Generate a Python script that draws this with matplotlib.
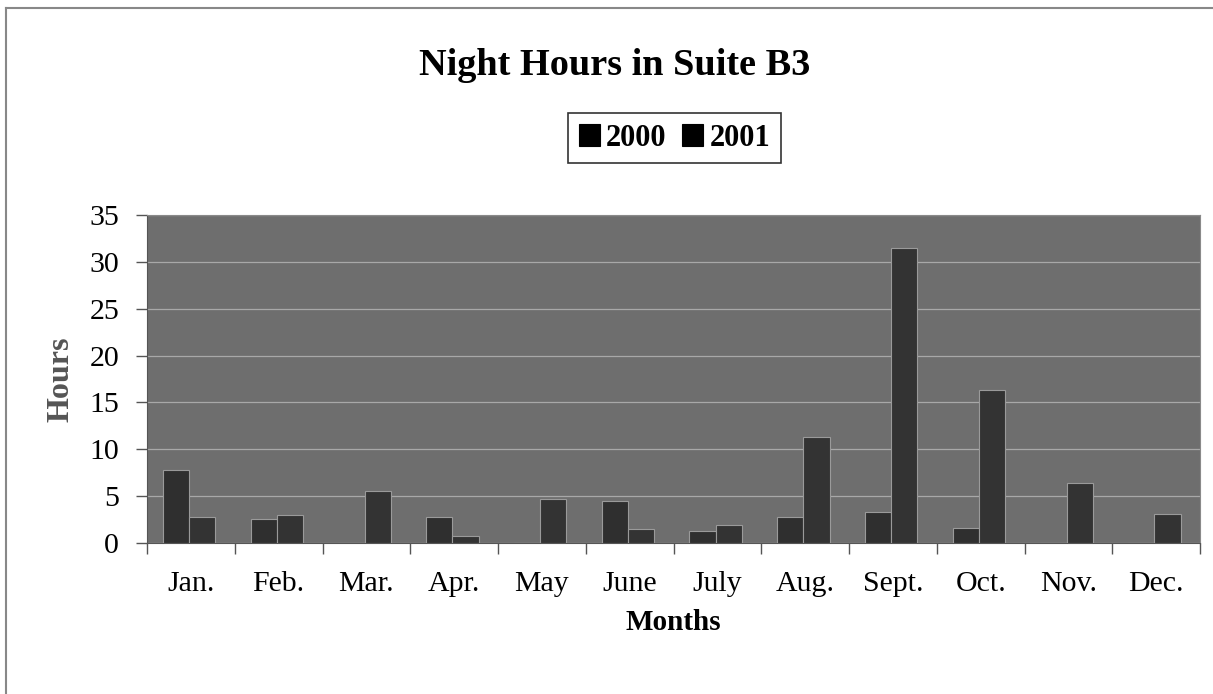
import matplotlib.pyplot as plt
import numpy as np

months = ['Jan.', 'Feb.', 'Mar.', 'Apr.', 'May', 'June',
          'July', 'Aug.', 'Sept.', 'Oct.', 'Nov.', 'Dec.']
hours_2000 = [7.8, 2.6, 0, 2.8, 0, 4.5, 1.3, 2.8, 3.3, 1.6, 0, 0]
hours_2001 = [2.8, 3.0, 5.5, 0.7, 4.7, 1.5, 1.9, 11.3, 31.5, 16.3, 6.4, 3.1]
years = ['2000', '2001']

plt.rcParams['font.family'] = ['Liberation Serif', 'DejaVu Serif']

fig = plt.figure(figsize=(12.13, 6.94), dpi=100)
ax = fig.add_axes([0.1212, 0.2176, 0.8681, 0.4726])
ax.set_facecolor('#6e6e6e')

x = np.arange(len(months))
w = 0.3
b1 = ax.bar(x - w / 2 - 0.02, hours_2000, w, color='#2f2f2f', edgecolor='#9a9a9a',
            linewidth=0.8, zorder=3, label=years[0])
b2 = ax.bar(x + w / 2 - 0.02, hours_2001, w, color='#333333', edgecolor='#9a9a9a',
            linewidth=0.8, zorder=3, label=years[1])

ax.set_xlim(-0.5, len(months) - 0.5)
ax.set_ylim(0, 35)
ax.set_yticks(range(0, 36, 5))
ax.yaxis.grid(True, color='#a8a8a8', linewidth=0.9, zorder=1)

# category ticks sit on the boundaries, labels at centres
ax.set_xticks(np.arange(-0.5, len(months), 1))
ax.set_xticklabels([])
ax.set_xticks(x, minor=True)
ax.set_xticklabels(months, minor=True, fontsize=21.5)
ax.tick_params(axis='x', which='major', length=8, width=1, color='#555555')
ax.tick_params(axis='x', which='minor', length=0, pad=20)
ax.tick_params(axis='y', length=8, width=1, color='#555555', labelsize=21.5, pad=12)

for s in ['top', 'right']:
    ax.spines[s].set_color('#8a8a8a')
for s in ['left', 'bottom']:
    ax.spines[s].set_color('#555555')

ax.set_xlabel('Months', fontsize=21, fontweight='bold', labelpad=9)
ax.set_ylabel('Hours', fontsize=23, fontweight='bold', color='#555555', labelpad=10)

fig.text(0.507, 0.905, 'Night Hours in Suite B3', ha='center', va='center',
         fontsize=27.5, fontweight='bold')

leg = fig.legend(handles=[b1, b2], loc='center', bbox_to_anchor=(0.556, 0.801),
                 ncol=2, fontsize=22, frameon=True, fancybox=False,
                 handlelength=0.7, handleheight=0.7, handletextpad=0.2,
                 columnspacing=0.5, borderpad=0.35, borderaxespad=0)
leg.get_frame().set_edgecolor('black')
leg.get_frame().set_linewidth(1.2)
for t in leg.get_texts():
    t.set_fontweight('bold')
for h in leg.legend_handles:
    h.set_color('black')

# outer chart border (top and left visible in the scan)
fig.add_artist(plt.Line2D([0.005, 1.0], [0.988, 0.988], color='#888888',
                          linewidth=1.5, transform=fig.transFigure))
fig.add_artist(plt.Line2D([0.005, 0.005], [0.0, 0.988], color='#888888',
                          linewidth=1.5, transform=fig.transFigure))

fig.savefig('out.png', dpi=100)
